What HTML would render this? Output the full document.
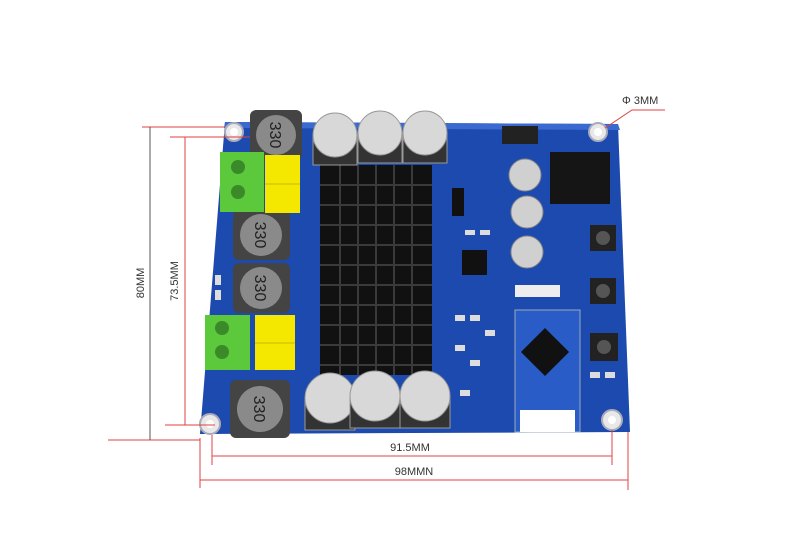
<!DOCTYPE html>
<html><head><meta charset="utf-8"><style>
body{margin:0;background:#fff;}
svg{display:block;font-family:"Liberation Sans",sans-serif;}
</style></head><body>
<svg width="800" height="544" viewBox="0 0 800 544" xmlns="http://www.w3.org/2000/svg">
<rect width="800" height="544" fill="#fff"/>
<polygon points="225,122 618,124 630,432 200,434" fill="#1c4aae"/>
<polygon points="225,122 618,124 620,130 224,128" fill="#3a6ad0"/>
<g fill="#e8e8e8" stroke="#aab" stroke-width="2">
<circle cx="234" cy="132" r="9"/><circle cx="598" cy="132" r="9"/>
<circle cx="210" cy="424" r="10"/><circle cx="612" cy="420" r="10"/>
</g>
<g fill="#fff"><circle cx="234" cy="132" r="4"/><circle cx="598" cy="132" r="4"/><circle cx="210" cy="424" r="4"/><circle cx="612" cy="420" r="4"/></g>
<rect x="320" y="165" width="112" height="210" fill="#111"/>
<g stroke="#3a3a3a" stroke-width="2">
<line x1="320" y1="185" x2="432" y2="185"/><line x1="320" y1="205" x2="432" y2="205"/><line x1="320" y1="225" x2="432" y2="225"/><line x1="320" y1="245" x2="432" y2="245"/><line x1="320" y1="265" x2="432" y2="265"/><line x1="320" y1="285" x2="432" y2="285"/><line x1="320" y1="305" x2="432" y2="305"/><line x1="320" y1="325" x2="432" y2="325"/><line x1="320" y1="345" x2="432" y2="345"/><line x1="320" y1="365" x2="432" y2="365"/>
<line x1="340" y1="165" x2="340" y2="375"/><line x1="358" y1="165" x2="358" y2="375"/><line x1="376" y1="165" x2="376" y2="375"/><line x1="394" y1="165" x2="394" y2="375"/><line x1="412" y1="165" x2="412" y2="375"/>
</g>
<g>
<rect x="250" y="110" width="52" height="50" rx="6" fill="#444"/><circle cx="276" cy="135" r="20" fill="#8a8a8a"/><text x="276" y="141" font-size="16" text-anchor="middle" fill="#222" transform="rotate(90 276 135)">330</text>
<rect x="233" y="210" width="57" height="50" rx="6" fill="#444"/><circle cx="261" cy="235" r="21" fill="#8a8a8a"/><text x="261" y="241" font-size="16" text-anchor="middle" fill="#222" transform="rotate(90 261 235)">330</text>
<rect x="233" y="263" width="57" height="50" rx="6" fill="#444"/><circle cx="261" cy="288" r="21" fill="#8a8a8a"/><text x="261" y="294" font-size="16" text-anchor="middle" fill="#222" transform="rotate(90 261 288)">330</text>
<rect x="230" y="380" width="60" height="58" rx="6" fill="#444"/><circle cx="260" cy="409" r="23" fill="#8a8a8a"/><text x="260" y="415" font-size="16" text-anchor="middle" fill="#222" transform="rotate(90 260 409)">330</text>
</g>
<rect x="220" y="152" width="44" height="60" fill="#5cc83c"/><circle cx="238" cy="167" r="7" fill="#3a8a2a"/><circle cx="238" cy="192" r="7" fill="#3a8a2a"/>
<rect x="205" y="315" width="45" height="55" fill="#5cc83c"/><circle cx="222" cy="328" r="7" fill="#3a8a2a"/><circle cx="222" cy="352" r="7" fill="#3a8a2a"/>
<rect x="265" y="155" width="35" height="58" fill="#f5e800"/><line x1="265" y1="184" x2="300" y2="184" stroke="#c9b800"/>
<rect x="255" y="315" width="40" height="55" fill="#f5e800"/><line x1="255" y1="343" x2="295" y2="343" stroke="#c9b800"/>
<g fill="#d8d8d8" stroke="#999">
<rect x="313" y="135" width="44" height="30" fill="#333"/><circle cx="335" cy="135" r="22"/>
<rect x="358" y="133" width="44" height="30" fill="#333"/><circle cx="380" cy="133" r="22"/>
<rect x="403" y="133" width="44" height="30" fill="#333"/><circle cx="425" cy="133" r="22"/>
<rect x="305" y="400" width="50" height="30" fill="#333"/><circle cx="330" cy="398" r="25"/>
<rect x="350" y="398" width="50" height="30" fill="#333"/><circle cx="375" cy="396" r="25"/>
<rect x="400" y="398" width="50" height="30" fill="#333"/><circle cx="425" cy="396" r="25"/>
</g>
<g fill="#d0d0d0" stroke="#888">
<circle cx="525" cy="175" r="16"/><circle cx="527" cy="212" r="16"/><circle cx="527" cy="252" r="16"/>
</g>
<rect x="502" y="126" width="36" height="18" fill="#222"/>
<rect x="550" y="152" width="60" height="52" fill="#151515"/>
<g fill="#222"><rect x="590" y="225" width="26" height="26"/><rect x="590" y="278" width="26" height="26"/><rect x="590" y="333" width="28" height="28"/></g>
<g fill="#555"><circle cx="603" cy="238" r="7"/><circle cx="603" cy="291" r="7"/><circle cx="604" cy="347" r="7"/></g>
<rect x="462" y="250" width="25" height="25" fill="#111"/>
<rect x="452" y="188" width="12" height="28" fill="#111"/>
<rect x="515" y="285" width="45" height="12" fill="#eee"/>
<rect x="515" y="310" width="65" height="122" fill="#2a5cc8" stroke="#9ab" />
<rect x="528" y="335" width="34" height="34" fill="#111" transform="rotate(45 545 352)"/>
<rect x="520" y="410" width="55" height="22" fill="#fff"/>
<g fill="#ddd">
<rect x="455" y="315" width="10" height="6"/><rect x="470" y="315" width="10" height="6"/><rect x="485" y="330" width="10" height="6"/><rect x="455" y="345" width="10" height="6"/><rect x="470" y="360" width="10" height="6"/><rect x="460" y="390" width="10" height="6"/><rect x="590" y="372" width="10" height="6"/><rect x="605" y="372" width="10" height="6"/><rect x="465" y="230" width="10" height="5"/><rect x="480" y="230" width="10" height="5"/><rect x="215" y="290" width="6" height="10"/><rect x="215" y="275" width="6" height="10"/>
</g>
<g stroke="#e04040" stroke-width="1" fill="none">
<line x1="142" y1="127" x2="225" y2="127"/><line x1="108" y1="440" x2="200" y2="440"/>
<line x1="185" y1="137" x2="185" y2="425"/><line x1="170" y1="137" x2="250" y2="137"/><line x1="165" y1="425" x2="215" y2="425"/>
<line x1="212" y1="456" x2="612" y2="456"/><line x1="212" y1="435" x2="212" y2="465"/><line x1="612" y1="430" x2="612" y2="465"/>
<line x1="200" y1="480" x2="628" y2="480"/><line x1="200" y1="438" x2="200" y2="488"/><line x1="628" y1="432" x2="628" y2="490"/>
<polyline points="605,128 632,110 665,110"/>
</g>
<line x1="150" y1="127" x2="150" y2="440" stroke="#555" stroke-width="1"/>
<text x="144" y="283" font-size="11" fill="#333" text-anchor="middle" transform="rotate(-90 144 283)">80MM</text>
<text x="178" y="281" font-size="11" fill="#333" text-anchor="middle" transform="rotate(-90 178 281)">73.5MM</text>
<text x="410" y="451" font-size="11" fill="#333" text-anchor="middle">91.5MM</text>
<text x="414" y="475" font-size="11" fill="#333" text-anchor="middle">98MMN</text>
<text x="622" y="104" font-size="11" fill="#333">Φ 3MM</text>
</svg>
</body></html>
